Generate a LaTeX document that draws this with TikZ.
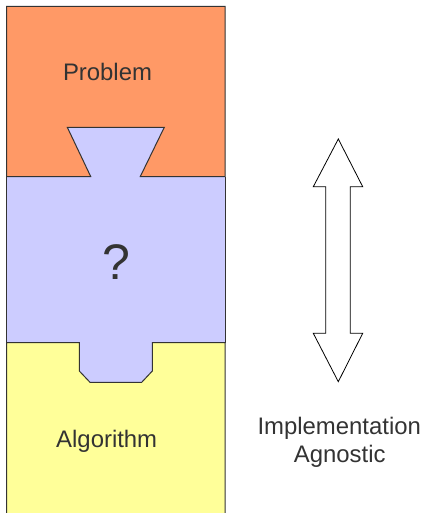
\documentclass[tikz,border=0pt]{standalone}
\usepackage{fontspec}
\setmainfont{Liberation Sans}
\definecolor{probfill}{HTML}{FF9966}
\definecolor{qfill}{HTML}{CCCCFF}
\definecolor{algfill}{HTML}{FFFF99}
\definecolor{inkgray}{HTML}{333333}
\begin{document}
\begin{tikzpicture}[x=1pt,y=-1pt,
  outline/.style={draw=inkgray,line width=1pt,line join=miter},
  label/.style={text=inkgray,inner sep=0pt,anchor=base,font=\fontsize{23.9}{28}\selectfont},
  bigmark/.style={text=inkgray,inner sep=0pt,anchor=base,font=\fontsize{50}{56}\selectfont},
  blockarrow/.style={draw=black,fill=white,line width=0.8pt,line join=miter}]
\useasboundingbox (0,0) rectangle (423,513);
% middle band (unknown piece), including its two tabs
\fill[qfill] (6.5,120) rectangle (225,390);
\draw[outline] (6.5,176.5) -- (6.5,342.5) (225,176.5) -- (225,342.5);
% top band: problem, with a tapered notch at the bottom
\draw[outline,fill=probfill] (6.5,6.5) -- (225,6.5) -- (225,176.5) -- (140.3,176.5)
  -- (164.3,127.3) -- (67.3,127.3) -- (90.7,176.5) -- (6.5,176.5) -- cycle;
% bottom band: algorithm, with a chamfered socket at the top
\fill[algfill] (6.5,342.5) -- (79.3,342.5) -- (79.3,371) -- (90,382.3) -- (141.7,382.3)
  -- (152.3,371) -- (152.3,342.5) -- (225,342.5) -- (225,514) -- (6.5,514) -- cycle;
\draw[outline] (6.5,514) -- (6.5,342.5) -- (79.3,342.5) -- (79.3,371) -- (90,382.3) -- (141.7,382.3)
  -- (152.3,371) -- (152.3,342.5) -- (225,342.5) -- (225,514);
% labels
\node[label] (problem) at (107.5,80.3) {Problem};
\node[bigmark] (unknown) at (116.3,279) {?};
\node[label] (algorithm) at (106.7,447.3) {Algorithm};
\node[label] (impl) at (339.2,434.3) {Implementation};
\node[label] (agnostic) at (339.7,462.3) {Agnostic};
% double-headed block arrow
\draw[blockarrow] (338.3,139) -- (362.7,186.7) -- (350.3,186.7) -- (350.3,333.3)
  -- (362.7,333.3) -- (338.3,381.7) -- (313.3,333.3) -- (325.7,333.3)
  -- (325.7,186.7) -- (313.3,186.7) -- cycle;
\end{tikzpicture}
\end{document}
